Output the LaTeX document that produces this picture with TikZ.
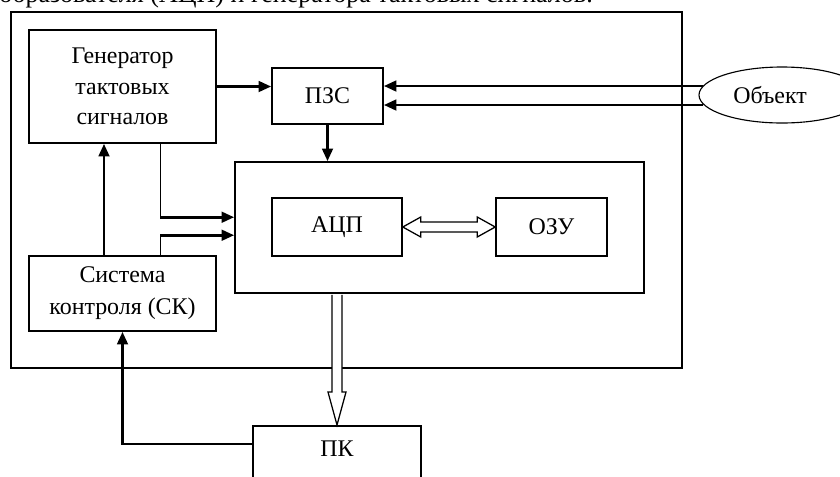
\documentclass[tikz,border=0pt]{standalone}
\usepackage{fontspec}
\setmainfont{Liberation Serif}
\usetikzlibrary{arrows.meta,calc,shapes.geometric}
\begin{document}
\begin{tikzpicture}[x=0.025cm,y=-0.025cm,
  box/.style={draw, line width=1.1pt, rectangle, inner sep=0pt,
    font=\fontsize{17}{21.5}\selectfont},
  conn/.style={line width=2.1pt, -{Triangle[length=9pt,width=7.5pt]}},
  thinline/.style={line width=0.7pt},
  hollow/.style={draw, line width=0.9pt, fill=white, line join=miter}]
\clip (0,0) rectangle (840,476);
\fill[white] (0,0) rectangle (840,476);

% caption line running above the scheme
\node[anchor=base west, inner sep=0pt, font=\fontsize{18.5}{20}\selectfont] (cap) at (-1,2)
  {образователя (АЦП) и генератора тактовых сигналов.};

% system frame
\node[draw, line width=1.4pt, inner sep=0pt, minimum width=671*0.025cm,
  minimum height=356*0.025cm] (sys) at (346.5,190) {};

% blocks
\node[box, align=center, minimum width=187*0.025cm, minimum height=113*0.025cm]
  (gen) at (122.5,86.5) {Генератор\\тактовых\\сигналов};
\node[box, minimum width=111*0.025cm, minimum height=56*0.025cm]
  (pzs) at (327.5,96) {ПЗС};
\node[box, minimum width=409*0.025cm, minimum height=131*0.025cm]
  (core) at (439.5,227.5) {};
\node[box, minimum width=130*0.025cm, minimum height=58*0.025cm]
  (adc) at (337,227) {АЦП};
\node[box, minimum width=111*0.025cm, minimum height=58*0.025cm]
  (ram) at (551.5,227) {ОЗУ};
\node[box, align=center, font=\fontsize{17}{22.7}\selectfont,
  minimum width=187*0.025cm, minimum height=75*0.025cm]
  (sk) at (122.5,293.5) {Система\\контроля (СК)};
\node[box, anchor=north, minimum width=168*0.025cm, inner ysep=0pt,
  text height=21.5pt, text depth=30pt] (pc) at (337,425) {ПК};
\node[draw, ellipse, line width=0.8pt, inner sep=0pt,
  minimum width=166*0.025cm, minimum height=56*0.025cm,
  font=\fontsize{17}{20}\selectfont] (obj) at (782,95) {Объект\hspace*{17pt}};

% signal lines
\draw[conn] (gen.east) -- (gen.east -| pzs.west);
\draw[conn] ($(obj.west)+(5,-9)$) -- ($(pzs.east)+(0,-10)$);
\draw[conn] ($(obj.west)+(5,10)$) -- ($(pzs.east)+(0,9)$);
\draw[conn] (pzs.south) -- (pzs.south |- core.north);
\draw[conn] ($(sk.north)+(-18.5,0)$) -- ($(gen.south)+(-18.5,0)$);

\draw[thinline] ($(gen.south)+(37.5,0)$) coordinate (g1)
  -- ($(g1 |- core.north west)+(0,56)$) coordinate (g2);
\draw[conn] (g2) -- (g2 -| core.west);
\draw[thinline] ($(sk.north)+(37.5,0)$) coordinate (s1)
  -- ($(s1 |- core.north west)+(0,74)$) coordinate (s2);
\draw[conn] (s2) -- (s2 -| core.west);

\draw[conn] ($(pc.north west)+(0,19)$) -| (sk.south);

% data buses
\draw[hollow] (adc.east) -- ($(adc.east)+(18,-10)$) -- ($(adc.east)+(18,-5)$)
  -- ($(ram.west)+(-18,-5)$) -- ($(ram.west)+(-18,-10)$) -- (ram.west)
  -- ($(ram.west)+(-18,10)$) -- ($(ram.west)+(-18,5)$)
  -- ($(adc.east)+(18,5)$) -- ($(adc.east)+(18,10)$) -- cycle;
\draw[hollow] ($(pc.north |- core.south)+(-5,1)$) -- ($(pc.north)+(-5,-33)$)
  -- ($(pc.north)+(-9,-33)$) -- (pc.north) -- ($(pc.north)+(9,-33)$)
  -- ($(pc.north)+(5,-33)$) -- ($(pc.north |- core.south)+(5,1)$);
\end{tikzpicture}
\end{document}
